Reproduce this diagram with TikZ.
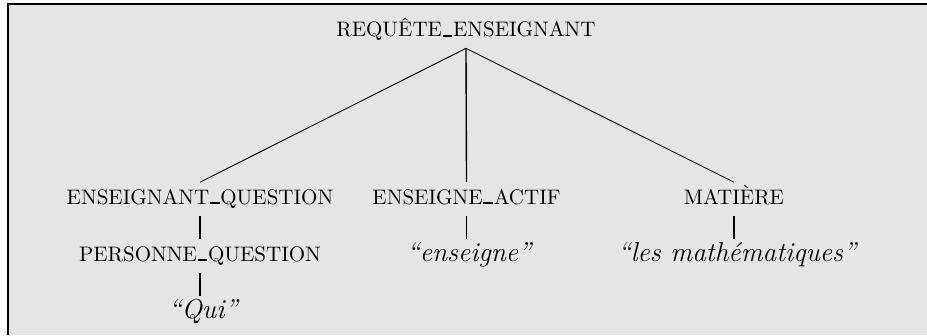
\documentclass[tikz,border=0pt]{standalone}
\usepackage{tikz}
\newcommand\us{\kern0.04em\rule{0.45em}{0.9pt}\kern0.04em}
\begin{document}
\begin{tikzpicture}[x=0.47619pt,y=-0.47619pt,
  lbl/.style={text height=7pt,text depth=2pt,anchor=base,font=\fontsize{10}{12}\selectfont},
  lit/.style={lbl,font=\fontsize{13}{15}\selectfont\itshape},
  edge/.style={line width=0.45pt},
  stem/.style={line width=0.65pt}]
\useasboundingbox (0,0) rectangle (927,335);
\fill[white] (0,0) rectangle (927,335);
\fill[black!10] (8,4) rectangle (927,335);
\draw[line width=0.65pt] (8,335) -- (8,4) -- (927,4);

\node[lbl] (root) at (466,36.7) {REQUÊTE\us ENSEIGNANT};
\node[lbl] (eq) at (200,204.3) {ENSEIGNANT\us QUESTION};
\node[lbl] (ea) at (466.5,204.3) {ENSEIGNE\us ACTIF};
\node[lbl] (mat) at (734,204.3) {MATIÈRE};
\node[lbl] (pq) at (200,261) {PERSONNE\us QUESTION};
\node[lit] (ens) at (469,261) {``enseigne''};
\node[lit] (lm) at (737,261) {``les mathématiques''};
\node[lit] (qui) at (203,318) {``Qui''};

\draw[edge] (root.south) -- (eq.north);
\draw[stem] (root.south) -- (ea.north);
\draw[edge] (root.south) -- (mat.north);
\draw[stem] (eq.south) -- (pq.north);
\draw[stem] (pq.south) -- (eq.south |- qui.north);
\draw[stem] (ea.south) -- (ea.south |- ens.north);
\draw[stem] (mat.south) -- (mat.south |- lm.north);
\end{tikzpicture}
\end{document}
